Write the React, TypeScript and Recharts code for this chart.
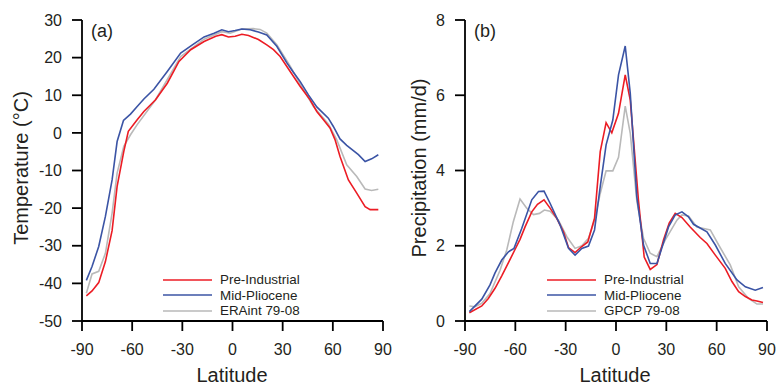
import React from 'react';
import { LineChart, Line, XAxis, YAxis, Label } from 'recharts';

// ---------- ticks ----------
const latTicks = [-90, -60, -30, 0, 30, 60, 90];
const tempTicks = [-50, -40, -30, -20, -10, 0, 10, 20, 30];
const precipTicks = [0, 2, 4, 6, 8];

// ---------- (a) temperature ----------
const tempLatPI = [-87.4, -84, -80, -76, -72, -69, -65, -62.3, -57, -53, -46, -39, -32, -25, -17, -10, -6.4, -2.4, 1.6, 5.6, 9.6, 15.5, 20.5, 24.5, 28.5, 34.5, 40.4, 46.4, 50.4, 54.4, 58.3, 61.3, 64.3, 69.3, 74.3, 79.3, 82.3, 87.2];
const tempPI = [-43.3, -42, -39.8, -34.2, -26, -14.2, -4.9, 0.4, 3.5, 5.7, 8.8, 13.2, 19, 22.1, 24.3, 25.7, 26.1, 25.5, 25.7, 26.2, 25.9, 24.8, 23.4, 22.1, 20.3, 16.3, 12.4, 8.8, 5.7, 3.5, 1.3, -1.8, -6.3, -12.5, -16, -19.6, -20.4, -20.4];

const tempLatMP = [-87.4, -84, -80, -76, -72, -69, -65.2, -61, -57, -53, -47, -39, -31, -24, -17, -11, -6.4, -2.4, 1.6, 5.6, 10.6, 15.5, 20.5, 26.5, 32.5, 36.4, 40.4, 45.4, 50.4, 57.3, 60.3, 64.3, 68.3, 75.3, 79.3, 83.2, 87.2];
const tempMP = [-39.2, -35.5, -30.2, -22.2, -12.5, -2.3, 3.3, 5.0, 7.0, 9.0, 11.6, 16.3, 21.2, 23.4, 25.5, 26.5, 27.4, 26.9, 27.2, 27.6, 27.4, 26.8, 26.0, 23.0, 18.6, 16.1, 13.7, 10.1, 6.9, 3.9, 1.7, -1.6, -3.3, -5.8, -7.6, -6.9, -5.8];

const tempLatERA = [-87.4, -84, -80, -76, -72, -69, -65, -61, -57, -46, -31, -17, -6.4, -1.4, 5.6, 12.5, 16.5, 20.5, 26.5, 34.5, 40.4, 48.4, 57.3, 62.3, 68.3, 74.3, 79.3, 83.2, 87.2];
const tempERA = [-42.6, -37.5, -36.8, -32, -21.3, -10.7, -3.6, -0.5, 2.2, 8.8, 20.3, 24.9, 26.9, 26.5, 27.6, 27.7, 27.5, 26.5, 23.4, 17.7, 13.1, 7.0, 2.4, -1.8, -8.5, -11.6, -14.9, -15.3, -15.0];

// ---------- (b) precipitation ----------
const prLatPI = [-87.4, -80, -76.1, -72.1, -68.1, -64.1, -60.2, -57.2, -54.2, -50.2, -46.8, -42.9, -39.3, -35.3, -31.3, -28.3, -24.4, -20.4, -16.8, -12.8, -9.4, -5.9, -2.5, 1.5, 5.5, 8.5, 13.4, 16.8, 20.4, 24.4, 28.3, 31.7, 35.3, 39.3, 44.2, 50.2, 54.2, 59.2, 65.1, 69.1, 73.1, 77.1, 81, 84, 87.6];
const prPI = [0.22, 0.4, 0.6, 0.87, 1.2, 1.55, 1.9, 2.17, 2.5, 2.9, 3.1, 3.22, 3.0, 2.73, 2.37, 1.95, 1.82, 1.98, 2.1, 2.73, 4.5, 5.27, 5.0, 5.52, 6.54, 5.87, 3.2, 1.7, 1.37, 1.5, 2.15, 2.6, 2.86, 2.75, 2.5, 2.22, 2.06, 1.75, 1.4, 1.05, 0.78, 0.65, 0.56, 0.53, 0.49];

const prLatMP = [-87.4, -80, -75.1, -72.1, -68.1, -64.1, -60.8, -56.2, -50.2, -46.2, -42.9, -39.3, -33.3, -28.3, -24.4, -20.4, -16.4, -12.8, -9.4, -5.9, -1.9, 1.5, 5.5, 8.5, 12.4, 16.4, 20.4, 24.4, 31.3, 35.3, 39.3, 43.2, 46.2, 54.2, 59.2, 65.1, 72.1, 77.1, 83, 87.6];
const prMP = [0.25, 0.58, 0.96, 1.28, 1.62, 1.84, 1.93, 2.46, 3.22, 3.44, 3.45, 3.13, 2.55, 1.93, 1.75, 1.93, 1.99, 2.42, 3.57, 4.68, 5.34, 6.54, 7.31, 6.05, 3.3, 2.02, 1.53, 1.53, 2.5, 2.82, 2.9, 2.77, 2.57, 2.37, 2.02, 1.53, 1.09, 0.91, 0.82, 0.89];

const prLatGPCP = [-87.4, -84, -80, -75.1, -69.1, -65.1, -61.2, -57.2, -53.2, -49.2, -45.6, -42.7, -39.3, -34.3, -29.3, -24.4, -20.4, -16.4, -12.8, -9.4, -5.9, -1.9, 1.5, 5.5, 8.5, 12.4, 16.4, 20.4, 24.4, 29.3, 36.3, 39.3, 43.2, 48.2, 56.2, 61.2, 68.1, 73.1, 79, 84, 87.6];
const prGPCP = [0.4, 0.38, 0.47, 0.73, 1.35, 1.89, 2.64, 3.24, 3.0, 2.83, 2.86, 2.95, 2.92, 2.68, 2.24, 1.93, 2.0, 2.2, 2.68, 3.39, 3.99, 3.99, 4.35, 5.71, 4.99, 3.2, 2.2, 1.8, 1.71, 2.15, 2.68, 2.82, 2.79, 2.5, 2.42, 2.02, 1.49, 0.91, 0.6, 0.45, 0.45];

const seriesNamesA = ['Pre-Industrial', 'Mid-Pliocene', 'ERAint 79-08'];
const seriesNamesB = ['Pre-Industrial', 'Mid-Pliocene', 'GPCP 79-08'];

const RED = '#ec1c24';
const BLUE = '#3b54a5';
const GRAY = '#b9b9b9';
const TXT = '#231f20';
const FONT = "'Liberation Sans', Arial, sans-serif";

const zip = (lats: number[], vals: number[]) => lats.map((lat, i) => ({ lat, v: vals[i] }));

const tickStyle = { fontSize: 16, fill: TXT, fontFamily: FONT };
const axisLineStyle = { stroke: '#000', strokeWidth: 1.8 };

function LegendBox({ left, top, names }: { left: number; top: number; names: string[] }) {
  const colors = [RED, BLUE, GRAY];
  return (
    <div style={{ position: 'absolute', left, top, fontFamily: FONT, fontSize: 13.4, color: TXT, lineHeight: '15.5px' }}>
      {names.map((n, i) => (
        <div key={n} style={{ display: 'flex', alignItems: 'center', height: 15.5 }}>
          <svg width={57} height={6} style={{ display: 'block' }}>
            <line x1={0} y1={3} x2={49} y2={3} stroke={colors[i]} strokeWidth={1.6} />
          </svg>
          <span>{n}</span>
        </div>
      ))}
    </div>
  );
}

export default function App() {
  return (
    <div style={{ position: 'absolute', left: 0, top: 0, width: 778, height: 385, background: '#fff', overflow: 'hidden' }}>
      {/* Panel (a) */}
      <div style={{ position: 'absolute', left: 0, top: 0 }}>
        <LineChart width={400} height={385} margin={{ top: 20, right: 17, bottom: 34, left: 22 }} style={{ overflow: 'visible' }}>
          <XAxis
            dataKey="lat"
            type="number"
            domain={[-90, 90]}
            ticks={latTicks}
            allowDuplicatedCategory={false}
            height={30}
            tickSize={10}
            tickMargin={13}
            tick={tickStyle}
            axisLine={axisLineStyle}
            tickLine={axisLineStyle}
            interval={0}
          >
            <Label
              content={() => (
                <text x={232} y={382} textAnchor="middle" fontFamily={FONT} fontSize={20} fill={TXT}>
                  Latitude
                </text>
              )}
            />
          </XAxis>
          <YAxis
            type="number"
            domain={[-50, 30]}
            ticks={tempTicks}
            width={60}
            tickSize={10}
            tickMargin={10}
            tick={tickStyle}
            axisLine={axisLineStyle}
            tickLine={axisLineStyle}
            interval={0}
          >
            <Label
              content={() => (
                <text x={27.5} y={168} transform="rotate(-90 27.5 168)" textAnchor="middle" fontFamily={FONT} fontSize={20} fill={TXT}>
                  Temperature (°C)
                </text>
              )}
            />
          </YAxis>
          <Line data={zip(tempLatERA, tempERA)} dataKey="v" name={seriesNamesA[2]} stroke={GRAY} strokeWidth={1.6} dot={false} isAnimationActive={false} />
          <Line data={zip(tempLatPI, tempPI)} dataKey="v" name={seriesNamesA[0]} stroke={RED} strokeWidth={1.6} dot={false} isAnimationActive={false} />
          <Line data={zip(tempLatMP, tempMP)} dataKey="v" name={seriesNamesA[1]} stroke={BLUE} strokeWidth={1.6} dot={false} isAnimationActive={false} />
        </LineChart>
      </div>

      {/* Panel (b) */}
      <div style={{ position: 'absolute', left: 390, top: 0 }}>
        <LineChart width={388} height={385} margin={{ top: 20, right: 11, bottom: 34, left: 15 }} style={{ overflow: 'visible' }}>
          <XAxis
            dataKey="lat"
            type="number"
            domain={[-90, 90]}
            ticks={latTicks}
            allowDuplicatedCategory={false}
            height={30}
            tickSize={10}
            tickMargin={13}
            tick={tickStyle}
            axisLine={axisLineStyle}
            tickLine={axisLineStyle}
            interval={0}
          >
            <Label
              content={() => (
                <text x={225} y={382} textAnchor="middle" fontFamily={FONT} fontSize={20} fill={TXT}>
                  Latitude
                </text>
              )}
            />
          </XAxis>
          <YAxis
            type="number"
            domain={[0, 8]}
            ticks={precipTicks}
            width={60}
            tickSize={10}
            tickMargin={10}
            tick={tickStyle}
            axisLine={axisLineStyle}
            tickLine={axisLineStyle}
            interval={0}
          >
            <Label
              content={() => (
                <text x={36} y={168} transform="rotate(-90 36 168)" textAnchor="middle" fontFamily={FONT} fontSize={20} fill={TXT}>
                  Precipitation (mm/d)
                </text>
              )}
            />
          </YAxis>
          <Line data={zip(prLatGPCP, prGPCP)} dataKey="v" name={seriesNamesB[2]} stroke={GRAY} strokeWidth={1.6} dot={false} isAnimationActive={false} />
          <Line data={zip(prLatPI, prPI)} dataKey="v" name={seriesNamesB[0]} stroke={RED} strokeWidth={1.6} dot={false} isAnimationActive={false} />
          <Line data={zip(prLatMP, prMP)} dataKey="v" name={seriesNamesB[1]} stroke={BLUE} strokeWidth={1.6} dot={false} isAnimationActive={false} />
        </LineChart>
      </div>

      {/* panel letters */}
      <div style={{ position: 'absolute', left: 91, top: 20, fontFamily: FONT, fontSize: 18, color: TXT, lineHeight: '22px' }}>(a)</div>
      <div style={{ position: 'absolute', left: 474, top: 20, fontFamily: FONT, fontSize: 18, color: TXT, lineHeight: '22px' }}>(b)</div>

      {/* legends */}
      <LegendBox left={163} top={272} names={seriesNamesA} />
      <LegendBox left={547} top={272} names={seriesNamesB} />
    </div>
  );
}
